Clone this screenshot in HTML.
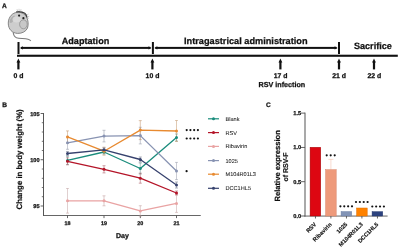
<!DOCTYPE html>
<html><head><meta charset="utf-8"><style>
html,body{margin:0;padding:0;background:#fff;overflow:hidden;width:400px;height:248px;}
svg{display:block;font-family:"Liberation Sans", sans-serif;will-change:transform;text-rendering:geometricPrecision;}

</style></head><body>
<svg width="400" height="248" viewBox="0 0 400 248">
<rect width="400" height="248" fill="#fff"/>
<text x="2.0" y="7.9" font-size="6.6" font-weight="bold" text-anchor="start" fill="#111" stroke="#111" stroke-width="0.25" >A</text>
<g>
<path d="M13.2,32.3 C13.4,35 14,36.8 16.5,37.7 C19.5,38.7 24.5,38.2 28,39.2 C29.5,39.6 30.3,40.3 30.8,40.9" fill="none" stroke="#7a7a7a" stroke-width="1.1"/>
<path d="M8.3,24 C8,18.5 11,14 15.5,12.6 C20,11.3 25,13.5 26.8,17.5 C28.3,20.5 28.6,25 27.5,28 C26,31.5 22,33.6 17.5,33.4 C12,33.1 8.5,29 8.3,24 Z" fill="#cdcdcd" stroke="#7a7a7a" stroke-width="0.9"/>
<path d="M9.5,22 C10,18.5 12,16 14.5,15.5 C15.5,17.5 14.5,20.5 12,22.5 C11,23.2 10,23 9.5,22 Z" fill="#a9a9a9" opacity="0.8"/>
<ellipse cx="16.5" cy="19.5" rx="4" ry="3" fill="#dadada" opacity="0.9"/>
<ellipse cx="23.4" cy="24.3" rx="3.8" ry="4.5" fill="#c8c8c8" stroke="#8a8a8a" stroke-width="0.7"/>
<path d="M16.3,11.9 C19,11.3 22.5,11.8 24.8,13.3 C26.2,14.3 26.8,15.8 27,17.5" fill="none" stroke="#3a3a3a" stroke-width="1.3"/>
<path d="M17,9.2 l0.8,2.4 M19,8.8 l0.2,2.6 M21,9.2 l-0.4,2.3 M28.6,14 l-1.8,1.2 M29.3,16.3 l-2,0.5 M29,18.3 l-1.8,-0.3" stroke="#b0b0b0" stroke-width="0.6"/>
<circle cx="19.1" cy="15.6" r="1.1" fill="#222"/>
<circle cx="23.4" cy="18.2" r="1.1" fill="#222"/>
</g>
<rect x="17.5" y="42" width="2" height="12" fill="#111"/>
<rect x="151.9" y="42" width="2" height="12" fill="#111"/>
<rect x="338" y="42" width="2" height="12" fill="#111"/>
<rect x="21.0" y="46.9" width="129.4" height="2" fill="#111"/>
<path d="M19.9,47.9 L22.9,46.199999999999996 L22.9,49.6 Z" fill="#111"/>
<path d="M151.5,47.9 L148.5,46.199999999999996 L148.5,49.6 Z" fill="#111"/>
<rect x="155.4" y="46.9" width="181.1" height="2" fill="#111"/>
<path d="M154.3,47.9 L157.3,46.199999999999996 L157.3,49.6 Z" fill="#111"/>
<path d="M337.6,47.9 L334.6,46.199999999999996 L334.6,49.6 Z" fill="#111"/>
<rect x="17" y="54.7" width="380.8" height="2.1" fill="#111"/>
<rect x="17.299999999999997" y="61.5" width="2.2" height="7.9" fill="#111"/>
<path d="M18.4,58.6 L16.5,62.6 L20.299999999999997,62.6 Z" fill="#111"/>
<rect x="151.3" y="61.5" width="2.2" height="7.9" fill="#111"/>
<path d="M152.4,58.6 L150.5,62.6 L154.3,62.6 Z" fill="#111"/>
<rect x="279.29999999999995" y="61.5" width="2.2" height="7.9" fill="#111"/>
<path d="M280.4,58.6 L278.5,62.6 L282.29999999999995,62.6 Z" fill="#111"/>
<rect x="337.9" y="61.5" width="2.2" height="7.9" fill="#111"/>
<path d="M339,58.6 L337.1,62.6 L340.9,62.6 Z" fill="#111"/>
<rect x="372.9" y="61.5" width="2.2" height="7.9" fill="#111"/>
<path d="M374,58.6 L372.1,62.6 L375.9,62.6 Z" fill="#111"/>
<text x="18.5" y="78.2" font-size="6.9" font-weight="bold" text-anchor="middle" fill="#111" stroke="#111" stroke-width="0.25" >0 d</text>
<text x="152.5" y="78.2" font-size="6.9" font-weight="bold" text-anchor="middle" fill="#111" stroke="#111" stroke-width="0.25" >10 d</text>
<text x="280.6" y="78.2" font-size="6.9" font-weight="bold" text-anchor="middle" fill="#111" stroke="#111" stroke-width="0.25" >17 d</text>
<text x="339.1" y="78.2" font-size="6.9" font-weight="bold" text-anchor="middle" fill="#111" stroke="#111" stroke-width="0.25" >21 d</text>
<text x="374.4" y="78.2" font-size="6.9" font-weight="bold" text-anchor="middle" fill="#111" stroke="#111" stroke-width="0.25" >22 d</text>
<text x="281.9" y="86.9" font-size="7.2" font-weight="bold" text-anchor="middle" fill="#111" stroke="#111" stroke-width="0.25" >RSV infection</text>
<text x="85.5" y="43.6" font-size="9.1" font-weight="bold" text-anchor="middle" fill="#111" stroke="#111" stroke-width="0.25" >Adaptation</text>
<text x="245.8" y="43.7" font-size="9.2" font-weight="bold" text-anchor="middle" fill="#111" stroke="#111" stroke-width="0.25" >Intragastrical administration</text>
<text x="372.9" y="49.4" font-size="9.15" font-weight="bold" text-anchor="middle" fill="#111" stroke="#111" stroke-width="0.25" >Sacrifice</text>
<text x="2.3" y="107.0" font-size="6.6" font-weight="bold" text-anchor="start" fill="#111" stroke="#111" stroke-width="0.25" >B</text>
<rect x="43.0" y="113" width="1" height="103" fill="#555"/>
<rect x="43.0" y="215" width="157.75" height="0.9" fill="#555"/>
<rect x="40.6" y="205.55" width="2.8999999999999986" height="0.9" fill="#555"/>
<text x="39.5" y="208.0" font-size="5.6" font-weight="bold" text-anchor="end" fill="#111" stroke="#111" stroke-width="0.25" >95</text>
<rect x="41.8" y="196.35" width="1.7000000000000028" height="0.8" fill="#555"/>
<rect x="41.8" y="187.10" width="1.7000000000000028" height="0.8" fill="#555"/>
<rect x="41.8" y="177.85" width="1.7000000000000028" height="0.8" fill="#555"/>
<rect x="41.8" y="168.60" width="1.7000000000000028" height="0.8" fill="#555"/>
<rect x="40.6" y="159.30" width="2.8999999999999986" height="0.9" fill="#555"/>
<text x="39.5" y="161.75" font-size="5.6" font-weight="bold" text-anchor="end" fill="#111" stroke="#111" stroke-width="0.25" >100</text>
<rect x="41.8" y="150.10" width="1.7000000000000028" height="0.8" fill="#555"/>
<rect x="41.8" y="140.85" width="1.7000000000000028" height="0.8" fill="#555"/>
<rect x="41.8" y="131.60" width="1.7000000000000028" height="0.8" fill="#555"/>
<rect x="41.8" y="122.35" width="1.7000000000000028" height="0.8" fill="#555"/>
<rect x="40.6" y="113.05" width="2.8999999999999986" height="0.9" fill="#555"/>
<text x="39.5" y="115.5" font-size="5.6" font-weight="bold" text-anchor="end" fill="#111" stroke="#111" stroke-width="0.25" >105</text>
<rect x="67.05" y="215.5" width="0.9" height="2.6" fill="#555"/>
<text x="67.5" y="225.1" font-size="5.4" font-weight="bold" text-anchor="middle" fill="#111" stroke="#111" stroke-width="0.25" >18</text>
<rect x="103.55" y="215.5" width="0.9" height="2.6" fill="#555"/>
<text x="104" y="225.1" font-size="5.4" font-weight="bold" text-anchor="middle" fill="#111" stroke="#111" stroke-width="0.25" >19</text>
<rect x="139.85000000000002" y="215.5" width="0.9" height="2.6" fill="#555"/>
<text x="140.3" y="225.1" font-size="5.4" font-weight="bold" text-anchor="middle" fill="#111" stroke="#111" stroke-width="0.25" >20</text>
<rect x="176.05" y="215.5" width="0.9" height="2.6" fill="#555"/>
<text x="176.5" y="225.1" font-size="5.4" font-weight="bold" text-anchor="middle" fill="#111" stroke="#111" stroke-width="0.25" >21</text>
<text x="122.4" y="237.6" font-size="7.0" font-weight="bold" text-anchor="middle" fill="#111" stroke="#111" stroke-width="0.25" >Day</text>
<text transform="translate(21.7,159.4) rotate(-90)" font-size="7.85" font-weight="bold" text-anchor="middle" fill="#111" stroke="#111" stroke-width="0.2">Change in body weight (%)</text>
<path d="M67.5,156.4 V164.4 M66.0,156.4 H69.0 M66.0,164.4 H69.0" stroke="#1a8c7c" stroke-width="0.7" opacity="0.45" fill="none"/>
<path d="M67.5,156.4 V164.4 M66.0,156.4 H69.0 M66.0,164.4 H69.0" stroke="#999" stroke-width="0.7" opacity="0.35" fill="none"/>
<path d="M104,150.0 V154.0 M102.5,150.0 H105.5 M102.5,154.0 H105.5" stroke="#1a8c7c" stroke-width="0.7" opacity="0.45" fill="none"/>
<path d="M104,150.0 V154.0 M102.5,150.0 H105.5 M102.5,154.0 H105.5" stroke="#999" stroke-width="0.7" opacity="0.35" fill="none"/>
<path d="M140.3,163.0 V174.0 M138.8,163.0 H141.8 M138.8,174.0 H141.8" stroke="#1a8c7c" stroke-width="0.7" opacity="0.45" fill="none"/>
<path d="M140.3,163.0 V174.0 M138.8,163.0 H141.8 M138.8,174.0 H141.8" stroke="#999" stroke-width="0.7" opacity="0.35" fill="none"/>
<path d="M176.5,134.0 V141.0 M175.0,134.0 H178.0 M175.0,141.0 H178.0" stroke="#1a8c7c" stroke-width="0.7" opacity="0.45" fill="none"/>
<path d="M176.5,134.0 V141.0 M175.0,134.0 H178.0 M175.0,141.0 H178.0" stroke="#999" stroke-width="0.7" opacity="0.35" fill="none"/>
<path d="M67.5,157.8 V164.8 M66.0,157.8 H69.0 M66.0,164.8 H69.0" stroke="#b41428" stroke-width="0.7" opacity="0.45" fill="none"/>
<path d="M67.5,157.8 V164.8 M66.0,157.8 H69.0 M66.0,164.8 H69.0" stroke="#999" stroke-width="0.7" opacity="0.35" fill="none"/>
<path d="M104,165.70000000000002 V172.9 M102.5,165.70000000000002 H105.5 M102.5,172.9 H105.5" stroke="#b41428" stroke-width="0.7" opacity="0.45" fill="none"/>
<path d="M104,165.70000000000002 V172.9 M102.5,165.70000000000002 H105.5 M102.5,172.9 H105.5" stroke="#999" stroke-width="0.7" opacity="0.35" fill="none"/>
<path d="M140.3,173.2 V183.2 M138.8,173.2 H141.8 M138.8,183.2 H141.8" stroke="#b41428" stroke-width="0.7" opacity="0.45" fill="none"/>
<path d="M140.3,173.2 V183.2 M138.8,173.2 H141.8 M138.8,183.2 H141.8" stroke="#999" stroke-width="0.7" opacity="0.35" fill="none"/>
<path d="M176.5,191.0 V195.0 M175.0,191.0 H178.0 M175.0,195.0 H178.0" stroke="#b41428" stroke-width="0.7" opacity="0.45" fill="none"/>
<path d="M176.5,191.0 V195.0 M175.0,191.0 H178.0 M175.0,195.0 H178.0" stroke="#999" stroke-width="0.7" opacity="0.35" fill="none"/>
<path d="M67.5,188.5 V213.10000000000002 M66.0,188.5 H69.0 M66.0,213.10000000000002 H69.0" stroke="#e9a3a3" stroke-width="0.7" opacity="0.45" fill="none"/>
<path d="M67.5,188.5 V213.10000000000002 M66.0,188.5 H69.0 M66.0,213.10000000000002 H69.0" stroke="#999" stroke-width="0.7" opacity="0.35" fill="none"/>
<path d="M104,195.8 V205.8 M102.5,195.8 H105.5 M102.5,205.8 H105.5" stroke="#e9a3a3" stroke-width="0.7" opacity="0.45" fill="none"/>
<path d="M104,195.8 V205.8 M102.5,195.8 H105.5 M102.5,205.8 H105.5" stroke="#999" stroke-width="0.7" opacity="0.35" fill="none"/>
<path d="M140.3,205.70000000000002 V216.1 M138.8,205.70000000000002 H141.8 M138.8,216.1 H141.8" stroke="#e9a3a3" stroke-width="0.7" opacity="0.45" fill="none"/>
<path d="M140.3,205.70000000000002 V216.1 M138.8,205.70000000000002 H141.8 M138.8,216.1 H141.8" stroke="#999" stroke-width="0.7" opacity="0.35" fill="none"/>
<path d="M176.5,194.4 V212.4 M175.0,194.4 H178.0 M175.0,212.4 H178.0" stroke="#e9a3a3" stroke-width="0.7" opacity="0.45" fill="none"/>
<path d="M176.5,194.4 V212.4 M175.0,194.4 H178.0 M175.0,212.4 H178.0" stroke="#999" stroke-width="0.7" opacity="0.35" fill="none"/>
<path d="M67.5,136.3 V149.3 M66.0,136.3 H69.0 M66.0,149.3 H69.0" stroke="#8893b2" stroke-width="0.7" opacity="0.45" fill="none"/>
<path d="M67.5,136.3 V149.3 M66.0,136.3 H69.0 M66.0,149.3 H69.0" stroke="#999" stroke-width="0.7" opacity="0.35" fill="none"/>
<path d="M104,130.29999999999998 V141.9 M102.5,130.29999999999998 H105.5 M102.5,141.9 H105.5" stroke="#8893b2" stroke-width="0.7" opacity="0.45" fill="none"/>
<path d="M104,130.29999999999998 V141.9 M102.5,130.29999999999998 H105.5 M102.5,141.9 H105.5" stroke="#999" stroke-width="0.7" opacity="0.35" fill="none"/>
<path d="M140.3,127.3 V143.9 M138.8,127.3 H141.8 M138.8,143.9 H141.8" stroke="#8893b2" stroke-width="0.7" opacity="0.45" fill="none"/>
<path d="M140.3,127.3 V143.9 M138.8,127.3 H141.8 M138.8,143.9 H141.8" stroke="#999" stroke-width="0.7" opacity="0.35" fill="none"/>
<path d="M176.5,162.4 V179.6 M175.0,162.4 H178.0 M175.0,179.6 H178.0" stroke="#8893b2" stroke-width="0.7" opacity="0.45" fill="none"/>
<path d="M176.5,162.4 V179.6 M175.0,162.4 H178.0 M175.0,179.6 H178.0" stroke="#999" stroke-width="0.7" opacity="0.35" fill="none"/>
<path d="M67.5,130.9 V142.9 M66.0,130.9 H69.0 M66.0,142.9 H69.0" stroke="#e88a30" stroke-width="0.7" opacity="0.45" fill="none"/>
<path d="M67.5,130.9 V142.9 M66.0,130.9 H69.0 M66.0,142.9 H69.0" stroke="#999" stroke-width="0.7" opacity="0.35" fill="none"/>
<path d="M104,147.2 V155.2 M102.5,147.2 H105.5 M102.5,155.2 H105.5" stroke="#e88a30" stroke-width="0.7" opacity="0.45" fill="none"/>
<path d="M104,147.2 V155.2 M102.5,147.2 H105.5 M102.5,155.2 H105.5" stroke="#999" stroke-width="0.7" opacity="0.35" fill="none"/>
<path d="M140.3,120.6 V139.6 M138.8,120.6 H141.8 M138.8,139.6 H141.8" stroke="#e88a30" stroke-width="0.7" opacity="0.45" fill="none"/>
<path d="M140.3,120.6 V139.6 M138.8,120.6 H141.8 M138.8,139.6 H141.8" stroke="#999" stroke-width="0.7" opacity="0.35" fill="none"/>
<path d="M176.5,120.5 V141.5 M175.0,120.5 H178.0 M175.0,141.5 H178.0" stroke="#e88a30" stroke-width="0.7" opacity="0.45" fill="none"/>
<path d="M176.5,120.5 V141.5 M175.0,120.5 H178.0 M175.0,141.5 H178.0" stroke="#999" stroke-width="0.7" opacity="0.35" fill="none"/>
<path d="M67.5,151.5 V155.5 M66.0,151.5 H69.0 M66.0,155.5 H69.0" stroke="#37426e" stroke-width="0.7" opacity="0.45" fill="none"/>
<path d="M67.5,151.5 V155.5 M66.0,151.5 H69.0 M66.0,155.5 H69.0" stroke="#999" stroke-width="0.7" opacity="0.35" fill="none"/>
<path d="M104,147.8 V151.8 M102.5,147.8 H105.5 M102.5,151.8 H105.5" stroke="#37426e" stroke-width="0.7" opacity="0.45" fill="none"/>
<path d="M104,147.8 V151.8 M102.5,147.8 H105.5 M102.5,151.8 H105.5" stroke="#999" stroke-width="0.7" opacity="0.35" fill="none"/>
<path d="M140.3,157.0 V162.0 M138.8,157.0 H141.8 M138.8,162.0 H141.8" stroke="#37426e" stroke-width="0.7" opacity="0.45" fill="none"/>
<path d="M140.3,157.0 V162.0 M138.8,157.0 H141.8 M138.8,162.0 H141.8" stroke="#999" stroke-width="0.7" opacity="0.35" fill="none"/>
<path d="M176.5,182.0 V188.0 M175.0,182.0 H178.0 M175.0,188.0 H178.0" stroke="#37426e" stroke-width="0.7" opacity="0.45" fill="none"/>
<path d="M176.5,182.0 V188.0 M175.0,182.0 H178.0 M175.0,188.0 H178.0" stroke="#999" stroke-width="0.7" opacity="0.35" fill="none"/>
<polyline points="67.5,160.4 104,152.0 140.3,168.5 176.5,137.5" fill="none" stroke="#1a8c7c" stroke-width="1.3" stroke-linejoin="round"/>
<circle cx="67.5" cy="160.4" r="1.5" fill="#1a8c7c"/>
<circle cx="104" cy="152.0" r="1.5" fill="#1a8c7c"/>
<circle cx="140.3" cy="168.5" r="1.5" fill="#1a8c7c"/>
<circle cx="176.5" cy="137.5" r="1.5" fill="#1a8c7c"/>
<polyline points="67.5,161.3 104,169.3 140.3,178.2 176.5,193.0" fill="none" stroke="#b41428" stroke-width="1.3" stroke-linejoin="round"/>
<circle cx="67.5" cy="161.3" r="1.5" fill="#b41428"/>
<circle cx="104" cy="169.3" r="1.5" fill="#b41428"/>
<circle cx="140.3" cy="178.2" r="1.5" fill="#b41428"/>
<circle cx="176.5" cy="193.0" r="1.5" fill="#b41428"/>
<polyline points="67.5,200.8 104,200.8 140.3,210.9 176.5,203.4" fill="none" stroke="#e9a3a3" stroke-width="1.3" stroke-linejoin="round"/>
<circle cx="67.5" cy="200.8" r="1.5" fill="#e9a3a3"/>
<circle cx="104" cy="200.8" r="1.5" fill="#e9a3a3"/>
<circle cx="140.3" cy="210.9" r="1.5" fill="#e9a3a3"/>
<circle cx="176.5" cy="203.4" r="1.5" fill="#e9a3a3"/>
<polyline points="67.5,142.8 104,136.1 140.3,135.6 176.5,171.0" fill="none" stroke="#8893b2" stroke-width="1.3" stroke-linejoin="round"/>
<circle cx="67.5" cy="142.8" r="1.5" fill="#8893b2"/>
<circle cx="104" cy="136.1" r="1.5" fill="#8893b2"/>
<circle cx="140.3" cy="135.6" r="1.5" fill="#8893b2"/>
<circle cx="176.5" cy="171.0" r="1.5" fill="#8893b2"/>
<polyline points="67.5,136.9 104,151.2 140.3,130.1 176.5,131.0" fill="none" stroke="#e88a30" stroke-width="1.3" stroke-linejoin="round"/>
<circle cx="67.5" cy="136.9" r="1.5" fill="#e88a30"/>
<circle cx="104" cy="151.2" r="1.5" fill="#e88a30"/>
<circle cx="140.3" cy="130.1" r="1.5" fill="#e88a30"/>
<circle cx="176.5" cy="131.0" r="1.5" fill="#e88a30"/>
<polyline points="67.5,153.5 104,149.8 140.3,159.5 176.5,185.0" fill="none" stroke="#37426e" stroke-width="1.3" stroke-linejoin="round"/>
<circle cx="67.5" cy="153.5" r="1.5" fill="#37426e"/>
<circle cx="104" cy="149.8" r="1.5" fill="#37426e"/>
<circle cx="140.3" cy="159.5" r="1.5" fill="#37426e"/>
<circle cx="176.5" cy="185.0" r="1.5" fill="#37426e"/>
<circle cx="186.70" cy="130.1" r="1.1" fill="#111"/>
<circle cx="190.43" cy="130.1" r="1.1" fill="#111"/>
<circle cx="194.17" cy="130.1" r="1.1" fill="#111"/>
<circle cx="197.90" cy="130.1" r="1.1" fill="#111"/>
<circle cx="186.70" cy="138.5" r="1.1" fill="#111"/>
<circle cx="190.43" cy="138.5" r="1.1" fill="#111"/>
<circle cx="194.17" cy="138.5" r="1.1" fill="#111"/>
<circle cx="197.90" cy="138.5" r="1.1" fill="#111"/>
<circle cx="186.6" cy="171.2" r="1.1" fill="#111"/>
<rect x="208" y="118.2" width="11" height="1.2" fill="#1a8c7c"/>
<circle cx="213.5" cy="118.8" r="1.5" fill="#1a8c7c"/>
<text x="225.5" y="120.8" font-size="5.6" font-weight="normal" text-anchor="start" fill="#222" stroke="#222" stroke-width="0.05" >Blank</text>
<rect x="208" y="132.0" width="11" height="1.2" fill="#b41428"/>
<circle cx="213.5" cy="132.6" r="1.5" fill="#b41428"/>
<text x="225.5" y="134.6" font-size="5.6" font-weight="normal" text-anchor="start" fill="#222" stroke="#222" stroke-width="0.05" >RSV</text>
<rect x="208" y="145.8" width="11" height="1.2" fill="#e9a3a3"/>
<circle cx="213.5" cy="146.4" r="1.5" fill="#e9a3a3"/>
<text x="225.5" y="148.4" font-size="5.6" font-weight="normal" text-anchor="start" fill="#222" stroke="#222" stroke-width="0.05" >Ribavirin</text>
<rect x="208" y="160.0" width="11" height="1.2" fill="#8893b2"/>
<circle cx="213.5" cy="160.6" r="1.5" fill="#8893b2"/>
<text x="225.5" y="162.6" font-size="5.6" font-weight="normal" text-anchor="start" fill="#222" stroke="#222" stroke-width="0.05" >1025</text>
<rect x="208" y="173.6" width="11" height="1.2" fill="#e88a30"/>
<circle cx="213.5" cy="174.2" r="1.5" fill="#e88a30"/>
<text x="225.5" y="176.2" font-size="5.6" font-weight="normal" text-anchor="start" fill="#222" stroke="#222" stroke-width="0.05" >M104R01L3</text>
<rect x="208" y="187.70000000000002" width="11" height="1.2" fill="#37426e"/>
<circle cx="213.5" cy="188.3" r="1.5" fill="#37426e"/>
<text x="225.5" y="190.3" font-size="5.6" font-weight="normal" text-anchor="start" fill="#222" stroke="#222" stroke-width="0.05" >DCC1HL5</text>
<text x="266.1" y="107.1" font-size="6.6" font-weight="bold" text-anchor="start" fill="#111" stroke="#111" stroke-width="0.25" >C</text>
<rect x="304.5" y="112.6" width="1" height="104" fill="#555"/>
<rect x="304.5" y="215.6" width="83.10000000000002" height="0.9" fill="#555"/>
<rect x="301" y="112.65" width="4.0" height="0.9" fill="#555"/>
<text x="301.2" y="115.10000000000001" font-size="5.7" font-weight="bold" text-anchor="end" fill="#111" stroke="#111" stroke-width="0.25" >1.5</text>
<rect x="301" y="146.95" width="4.0" height="0.9" fill="#555"/>
<text x="301.2" y="149.4" font-size="5.7" font-weight="bold" text-anchor="end" fill="#111" stroke="#111" stroke-width="0.25" >1.0</text>
<rect x="301" y="181.25" width="4.0" height="0.9" fill="#555"/>
<text x="301.2" y="183.7" font-size="5.7" font-weight="bold" text-anchor="end" fill="#111" stroke="#111" stroke-width="0.25" >0.5</text>
<rect x="301" y="215.55" width="4.0" height="0.9" fill="#555"/>
<text x="301.2" y="218.0" font-size="5.7" font-weight="bold" text-anchor="end" fill="#111" stroke="#111" stroke-width="0.25" >0.0</text>
<text transform="translate(279.8,165.8) rotate(-90)" font-size="7.6" font-weight="bold" text-anchor="middle" fill="#111" stroke="#111" stroke-width="0.2">Relative expression</text>
<text transform="translate(288.2,167.0) rotate(-90)" font-size="7.0" font-weight="bold" text-anchor="middle" fill="#111" stroke="#111" stroke-width="0.2">of RSV-F</text>
<rect x="310.09999999999997" y="147.3" width="10.6" height="68.69999999999999" fill="#dd0712" stroke="#a00000" stroke-width="0.5"/>
<rect x="314.95" y="216" width="0.9" height="2.5" fill="#555"/>
<text transform="translate(316.7,224.8) rotate(-45)" font-size="5.7" font-weight="bold" text-anchor="end" fill="#111" stroke="#111" stroke-width="0.15">RSV</text>
<path d="M330.9,159.4 V169.7 M328.4,159.4 H333.4" stroke="#ee9a7b" stroke-width="0.7" opacity="0.5" fill="none"/>
<rect x="325.59999999999997" y="169.7" width="10.6" height="46.30000000000001" fill="#ee9a7b" stroke="#d88468" stroke-width="0.5"/>
<rect x="330.45" y="216" width="0.9" height="2.5" fill="#555"/>
<text transform="translate(332.2,224.8) rotate(-45)" font-size="5.7" font-weight="bold" text-anchor="end" fill="#111" stroke="#111" stroke-width="0.15">Ribavirin</text>
<rect x="341.09999999999997" y="211.6" width="10.6" height="4.400000000000006" fill="#8294b6" stroke="#6a7ea4" stroke-width="0.5"/>
<rect x="345.95" y="216" width="0.9" height="2.5" fill="#555"/>
<text transform="translate(347.7,224.8) rotate(-45)" font-size="5.7" font-weight="bold" text-anchor="end" fill="#111" stroke="#111" stroke-width="0.15">1025</text>
<rect x="356.59999999999997" y="208.0" width="10.6" height="8.0" fill="#ff8200" stroke="#e07000" stroke-width="0.5"/>
<rect x="361.45" y="216" width="0.9" height="2.5" fill="#555"/>
<text transform="translate(363.2,224.8) rotate(-45)" font-size="5.7" font-weight="bold" text-anchor="end" fill="#111" stroke="#111" stroke-width="0.15">M104R01L3</text>
<rect x="372.09999999999997" y="211.7" width="10.6" height="4.300000000000011" fill="#2c427e" stroke="#22366c" stroke-width="0.5"/>
<rect x="376.95" y="216" width="0.9" height="2.5" fill="#555"/>
<text transform="translate(378.7,224.8) rotate(-45)" font-size="5.7" font-weight="bold" text-anchor="end" fill="#111" stroke="#111" stroke-width="0.15">DCC1HL5</text>
<circle cx="326.70" cy="155.3" r="1.1" fill="#111"/>
<circle cx="330.70" cy="155.3" r="1.1" fill="#111"/>
<circle cx="334.70" cy="155.3" r="1.1" fill="#111"/>
<circle cx="340.40" cy="206.3" r="1.1" fill="#111"/>
<circle cx="344.27" cy="206.3" r="1.1" fill="#111"/>
<circle cx="348.13" cy="206.3" r="1.1" fill="#111"/>
<circle cx="352.00" cy="206.3" r="1.1" fill="#111"/>
<circle cx="356.00" cy="202.0" r="1.1" fill="#111"/>
<circle cx="359.87" cy="202.0" r="1.1" fill="#111"/>
<circle cx="363.73" cy="202.0" r="1.1" fill="#111"/>
<circle cx="367.60" cy="202.0" r="1.1" fill="#111"/>
<circle cx="372.30" cy="206.5" r="1.1" fill="#111"/>
<circle cx="376.17" cy="206.5" r="1.1" fill="#111"/>
<circle cx="380.03" cy="206.5" r="1.1" fill="#111"/>
<circle cx="383.90" cy="206.5" r="1.1" fill="#111"/>
</svg>
</body></html>
